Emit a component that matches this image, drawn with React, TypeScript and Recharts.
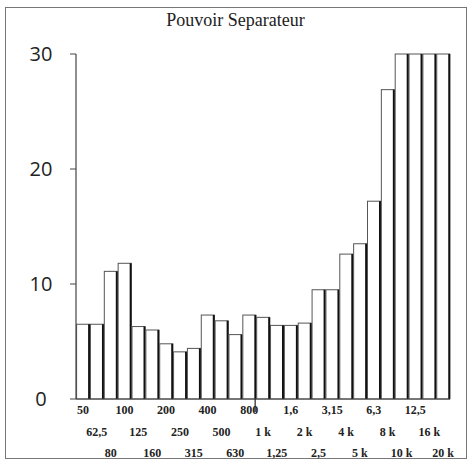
import React from 'react';
import { BarChart, Bar, XAxis, YAxis } from 'recharts';

// third-octave bands, 50 Hz .. 20 kHz
const bands = [
  '50', '62,5', '80', '100', '125', '160', '200', '250', '315',
  '400', '500', '630', '800', '1 k', '1,25', '1,6', '2 k', '2,5',
  '3,15', '4 k', '5 k', '6,3', '8 k', '10 k', '12,5', '16 k', '20 k',
];
const values = [
  6.5, 6.5, 11.1, 11.8, 6.3, 6.0, 4.8, 4.1, 4.4,
  7.3, 6.8, 5.6, 7.3, 7.1, 6.4, 6.4, 6.6, 9.5,
  9.5, 12.6, 13.5, 17.2, 26.9, 30, 30, 30, 30,
];
const yTicks = [0, 10, 20, 30];

const data = bands.map((band, i) => ({ band, value: values[i] }));

const BarShape = (props: any) => {
  const { x, y, width, height } = props;
  if (!height) return null;
  return (
    <g>
      <rect x={x} y={y} width={width} height={height} fill="#fff" stroke="#555" strokeWidth={1} />
      <line x1={x + width - 0.5} y1={y} x2={x + width - 0.5} y2={y + height} stroke="#111" strokeWidth={2} />
    </g>
  );
};

const XTick = (props: any) => {
  const { x, y, payload, index } = props;
  const row = index % 3;
  const dy = [15, 37, 58][row];
  return (
    <g>
      {payload.value === '800' && (
        <line x1={x + 6} y1={y} x2={x + 6} y2={y + 13} stroke="#222" strokeWidth={1.2} />
      )}
      <text x={x} y={y + dy} textAnchor="middle" fontFamily="'Liberation Serif', serif" fontSize={12} fontWeight="bold" fill="#222">
        {payload.value}
      </text>
    </g>
  );
};

const YTick = (props: any) => {
  const { x, y, payload } = props;
  return (
    <text x={x - 27} y={y - 1} textAnchor="middle" dominantBaseline="central" fontFamily="'Open Sans', sans-serif" fontSize={20} fill="#222">
      {payload.value}
    </text>
  );
};

export default function App() {
  return (
    <div style={{ position: 'absolute', left: 0, top: 0, width: 471, height: 460, background: '#fff' }}>
      <div style={{ position: 'absolute', left: 5, top: 7, width: 460, height: 450, border: '1.5px solid #777' }} />
      <div style={{ position: 'absolute', left: 0, top: 10, width: 471, textAlign: 'center', fontFamily: "'Liberation Serif', serif", fontSize: 18, color: '#222' }}>
        Pouvoir Separateur
      </div>
      <div style={{ position: 'absolute', left: 0, top: 0 }}>
        <BarChart width={471} height={460} data={data} margin={{ top: 54, right: 21, bottom: 0, left: 0 }} barCategoryGap={0.6}>
          <XAxis
            dataKey="band"
            height={61}
            interval={0}
            tickLine={false}
            tickSize={0}
            tickMargin={0}
            axisLine={{ stroke: '#444', strokeWidth: 1.2 }}
            tick={<XTick />}
          />
          <YAxis
            width={76}
            domain={[0, 30]}
            ticks={yTicks}
            tickSize={6}
            tickMargin={2}
            tickLine={{ stroke: '#444' }}
            axisLine={{ stroke: '#444', strokeWidth: 1.2 }}
            tick={<YTick />}
          />
          <Bar dataKey="value" shape={<BarShape />} isAnimationActive={false} />
        </BarChart>
      </div>
    </div>
  );
}
